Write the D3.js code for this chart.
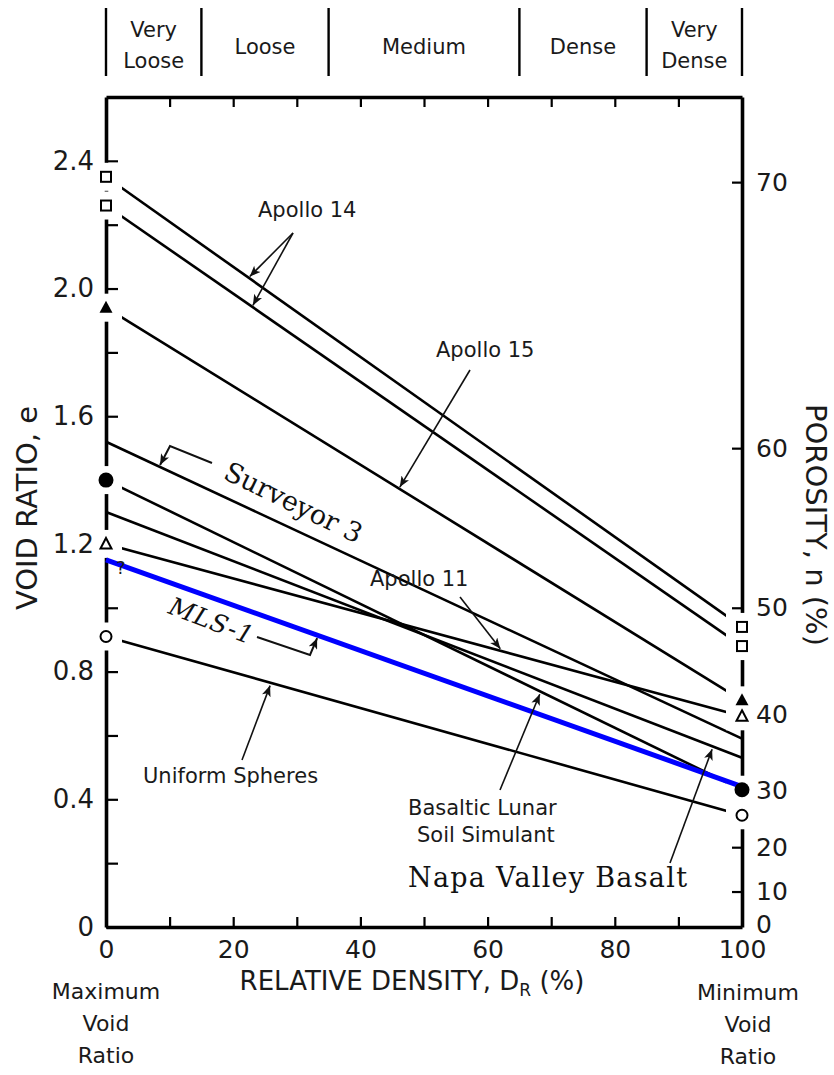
<!DOCTYPE html>
<html><head><meta charset="utf-8">
<script src="https://cdn.jsdelivr.net/npm/d3@7"></script>
<style>
body{margin:0;background:#fff}
svg{display:block}
.sans{font-family:"DejaVu Sans","Liberation Sans",sans-serif;fill:#1a1a1a}
.serif{font-family:"DejaVu Serif","Liberation Serif",serif;fill:#111}
</style>
</head><body>
<svg id="chart" width="834" height="1075"></svg>
<script>
// ---------------- DATA ----------------
const seriesNames = ["Apollo 14 (a)","Apollo 14 (b)","Apollo 15","Surveyor 3","Basaltic Lunar Soil Simulant","Napa Valley Basalt","Apollo 11","MLS-1","Uniform Spheres"];
const voidRatioAtDr0   = [2.35, 2.26, 1.94, 1.52, 1.40, 1.30, 1.20, 1.15, 0.91];
const voidRatioAtDr100 = [0.94, 0.88, 0.71, 0.59, 0.43, 0.53, 0.66, 0.44, 0.35];
const densityBounds  = [0, 15, 35, 65, 85, 100];
const densityClasses = [["Very","Loose"],["Loose"],["Medium"],["Dense"],["Very","Dense"]];
const xTickValues    = [0,10,20,30,40,50,60,70,80,90,100];
const xTickLabels    = ["0","","20","","40","","60","","80","","100"];
const yTickValues    = [0,0.2,0.4,0.6,0.8,1.0,1.2,1.4,1.6,1.8,2.0,2.2,2.4];
const yTickLabels    = ["0","","0.4","","0.8","","1.2","","1.6","","2.0","","2.4"];
const porosityTicks  = [0,10,20,30,40,50,60,70];

// ---------------- STYLE ----------------
const markerKinds = ["square","square","triFilled",null,"circFilled",null,"triOpen",null,"circOpen"];
const lineColors  = ["#000","#000","#000","#000","#000","#000","#000","#0000ff","#000"];
const lineWidths  = [2.6,2.6,2.6,2.6,2.6,2.6,2.6,5,2.6];

const svg = d3.select("#chart");
const x = d3.scaleLinear().domain([0,100]).range([106,742]);
const y = d3.scaleLinear().domain([0,2.6]).range([927,97]);

const defs = svg.append("defs");
defs.append("marker").attr("id","ah").attr("viewBox","0 0 12 10")
  .attr("refX",12).attr("refY",5).attr("markerWidth",12).attr("markerHeight",9)
  .attr("markerUnits","userSpaceOnUse").attr("orient","auto")
  .append("path").attr("d","M0,0 L12,5 L0,10 L3,5 z").attr("fill","#111");

// ---------- series lines (black) ----------
const gLines = svg.append("g");
seriesNames.forEach((name,i)=>{
  if (lineColors[i] === "#0000ff") return;
  gLines.append("line")
    .attr("x1",x(0)).attr("y1",y(voidRatioAtDr0[i]))
    .attr("x2",x(100)).attr("y2",y(voidRatioAtDr100[i]))
    .attr("stroke",lineColors[i]).attr("stroke-width",lineWidths[i]);
});

// ---------- axes ----------
function styleAxis(g, fs){
  g.select(".domain").attr("stroke","#000").attr("stroke-width",3.6);
  g.selectAll(".tick line").attr("stroke","#000").attr("stroke-width",2.2);
  g.selectAll(".tick text").attr("class","sans").attr("font-size",fs).attr("fill","#1a1a1a");
}
const gLeft = svg.append("g").attr("transform",`translate(${x(0)},0)`)
  .call(d3.axisLeft(y).tickValues(yTickValues).tickSizeInner(-12).tickSizeOuter(0).tickPadding(12)
    .tickFormat((d,i)=>yTickLabels[i]));
styleAxis(gLeft, 26);

const gBottom = svg.append("g").attr("transform",`translate(0,${y(0)})`)
  .call(d3.axisBottom(x).tickValues(xTickValues).tickSizeInner(-10).tickSizeOuter(0).tickPadding(13)
    .tickFormat((d,i)=>xTickLabels[i]));
styleAxis(gBottom, 25);

const gTop = svg.append("g").attr("transform",`translate(0,${y(2.6)})`)
  .call(d3.axisTop(x).tickValues(xTickValues.slice(1,-1)).tickSizeInner(-10).tickSizeOuter(0).tickFormat(""));
styleAxis(gTop, 26);

const gRight = svg.append("g").attr("transform",`translate(${x(100)},0)`)
  .call(d3.axisRight(y).tickValues(porosityTicks.map(n=>n/(100-n))).tickSizeInner(-10).tickSizeOuter(0).tickPadding(14)
    .tickFormat((d,i)=>String(porosityTicks[i])));
styleAxis(gRight, 25);
gRight.selectAll(".tick text").filter(d=>d===0).attr("dy","0.2em");

// ---------- marker halos (break axis + line ends) ----------
const gHalo = svg.append("g");
seriesNames.forEach((name,i)=>{
  if (!markerKinds[i]) return;
  gHalo.append("rect").attr("x",x(0)-9).attr("y",y(voidRatioAtDr0[i])-14).attr("width",25).attr("height",28).attr("fill","#fff");
  gHalo.append("rect").attr("x",x(100)-16).attr("y",y(voidRatioAtDr100[i])-14).attr("width",25).attr("height",28).attr("fill","#fff");
});

// ---------- blue line ----------
seriesNames.forEach((name,i)=>{
  if (lineColors[i] !== "#0000ff") return;
  svg.append("line")
    .attr("x1",x(0)).attr("y1",y(voidRatioAtDr0[i]))
    .attr("x2",x(100)).attr("y2",y(voidRatioAtDr100[i]))
    .attr("stroke",lineColors[i]).attr("stroke-width",lineWidths[i]);
});

// ---------- markers ----------
const gMk = svg.append("g");
function drawMarker(kind, cx, cy){
  if (kind==="square") gMk.append("rect").attr("x",cx-5).attr("y",cy-5).attr("width",10).attr("height",10)
      .attr("fill","#fff").attr("stroke","#000").attr("stroke-width",2);
  if (kind==="triFilled") gMk.append("path").attr("d",`M${cx},${cy-7} L${cx+6.5},${cy+5} L${cx-6.5},${cy+5} Z`).attr("fill","#000");
  if (kind==="triOpen") gMk.append("path").attr("d",`M${cx},${cy-6} L${cx+5.5},${cy+4.5} L${cx-5.5},${cy+4.5} Z`)
      .attr("fill","#fff").attr("stroke","#000").attr("stroke-width",2);
  if (kind==="circFilled") gMk.append("circle").attr("cx",cx).attr("cy",cy).attr("r",7.5).attr("fill","#000");
  if (kind==="circOpen") gMk.append("circle").attr("cx",cx).attr("cy",cy).attr("r",5.5)
      .attr("fill","#fff").attr("stroke","#000").attr("stroke-width",2);
}
seriesNames.forEach((name,i)=>{
  if (!markerKinds[i]) return;
  drawMarker(markerKinds[i], x(0), y(voidRatioAtDr0[i]));
  drawMarker(markerKinds[i], x(100), y(voidRatioAtDr100[i]));
});

// ---------- density class header ----------
const gHead = svg.append("g");
densityBounds.forEach(b=>{
  gHead.append("line").attr("x1",x(b)).attr("x2",x(b)).attr("y1",8).attr("y2",76)
    .attr("stroke","#000").attr("stroke-width",2.4);
});
densityClasses.forEach((lines,k)=>{
  const cx = x((densityBounds[k]+densityBounds[k+1])/2);
  const t = gHead.append("text").attr("class","sans").attr("font-size",21).attr("text-anchor","middle");
  if (lines.length===2){
    t.append("tspan").attr("x",cx).attr("y",37).text(lines[0]);
    t.append("tspan").attr("x",cx).attr("y",68).text(lines[1]);
  } else {
    t.append("tspan").attr("x",cx).attr("y",54).text(lines[0]);
  }
});

// ---------- axis titles ----------
svg.append("text").attr("class","sans").attr("font-size",29).attr("text-anchor","middle")
  .attr("transform","translate(37,508) rotate(-90)").text("VOID RATIO, e");
svg.append("text").attr("class","sans").attr("font-size",29).attr("text-anchor","middle")
  .attr("transform","translate(806,525) rotate(90)").text("POROSITY, n (%)");
const xt = svg.append("text").attr("class","sans").attr("font-size",26).attr("text-anchor","middle")
  .attr("x",412).attr("y",990);
xt.append("tspan").text("RELATIVE DENSITY, D");
xt.append("tspan").attr("font-size",17).attr("dy",6).text("R");
xt.append("tspan").attr("dy",-6).text(" (%)");

function stack(lines, cx, y0, dy, fs){
  const t = svg.append("text").attr("class","sans").attr("font-size",fs).attr("text-anchor","middle");
  lines.forEach((s,j)=>t.append("tspan").attr("x",cx).attr("y",y0+j*dy).text(s));
}
stack(["Maximum","Void","Ratio"], x(0), 999, 32, 22);
stack(["Minimum","Void","Ratio"], x(100)+6, 1000, 32, 22);

// ---------- annotations ----------
const idx = n => seriesNames.indexOf(n);
function onLine(name, xd, off){
  const i = idx(name);
  const e = voidRatioAtDr0[i] + (voidRatioAtDr100[i]-voidRatioAtDr0[i])*xd/100;
  return [x(xd), y(e)+off];
}
const gAnn = svg.append("g");
function arrow(from, to){
  gAnn.append("line").attr("x1",from[0]).attr("y1",from[1]).attr("x2",to[0]).attr("y2",to[1])
    .attr("stroke","#111").attr("stroke-width",1.6).attr("marker-end","url(#ah)");
}
function poly(pts){
  gAnn.append("path").attr("d","M"+pts.map(p=>p.join(",")).join(" L"))
    .attr("fill","none").attr("stroke","#111").attr("stroke-width",2).attr("marker-end","url(#ah)");
}
function label(txt, px, py, fs){
  svg.append("text").attr("class","sans").attr("font-size",fs).attr("x",px).attr("y",py).text(txt);
}
label("Apollo 14", 258, 217, 21);
arrow([293,233], onLine("Apollo 14 (a)",22.6,-2));
arrow([293,233], onLine("Apollo 14 (b)",23.1,-2));
label("Apollo 15", 436, 357, 21);
arrow([470,370], onLine("Apollo 15",46.2,-2));
label("Apollo 11", 370, 586, 21);
arrow([460,597], onLine("Apollo 11",62,-2));
label("Uniform Spheres", 143, 783, 21);
arrow([242,760], onLine("Uniform Spheres",25.8,3));
label("Basaltic Lunar", 408, 815, 21);
label("Soil Simulant", 417, 842, 21);
arrow([500,790], onLine("Basaltic Lunar Soil Simulant",68.2,3));
arrow([670,863], onLine("Napa Valley Basalt",95.3,3));

// Surveyor bracket
const sTip = onLine("Surveyor 3",8.5,-2);
poly([[212,463],[170,446],sTip]);
svg.append("text").attr("class","serif").attr("font-size",27)
  .attr("transform","translate(222,478) rotate(26)")
  .attr("textLength",150).attr("lengthAdjust","spacing").text("Surveyor 3");

// MLS-1 bracket
const mTip = onLine("MLS-1",33.2,3);
poly([[257,637],[310,655],mTip]);
svg.append("text").attr("class","serif").attr("font-size",25).attr("font-style","italic")
  .attr("transform","translate(167,613) rotate(21)")
  .attr("textLength",88).attr("lengthAdjust","spacing").text("MLS-1");

svg.append("text").attr("class","serif").attr("font-size",27).attr("x",408).attr("y",887)
  .attr("textLength",279).attr("lengthAdjust","spacing").text("Napa Valley Basalt");

svg.append("text").attr("class","sans").attr("font-size",18).attr("x",116).attr("y",574).text("?");
</script>
</body></html>
